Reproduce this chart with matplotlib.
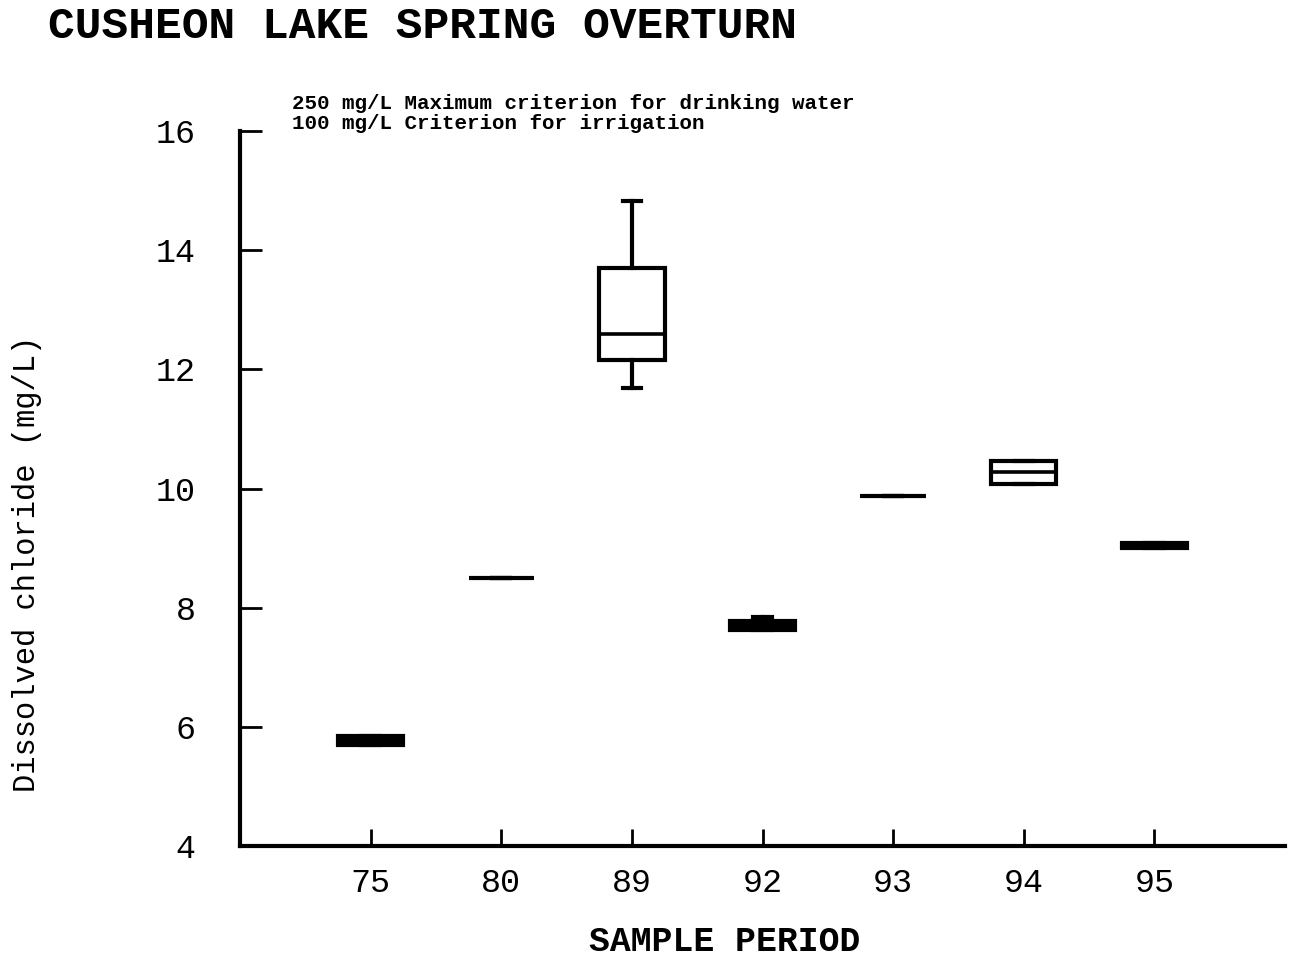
import matplotlib
matplotlib.use('Agg')
import matplotlib.pyplot as plt

# dissolved chloride summary per sample period (mg/L)
periods = ['75', '80', '89', '92', '93', '94', '95']
whisker_low = [5.70, 8.50, 11.68, 7.63, 9.87, 10.07, 9.01]
quart_low = [5.70, 8.50, 12.15, 7.63, 9.87, 10.07, 9.01]
medians = [5.77, 8.50, 12.59, 7.70, 9.87, 10.27, 9.05]
quart_high = [5.84, 8.50, 13.71, 7.78, 9.87, 10.46, 9.08]
whisker_high = [5.84, 8.50, 14.83, 7.85, 9.87, 10.46, 9.08]

notes = ['250 mg/L Maximum criterion for drinking water',
         '100 mg/L Criterion for irrigation']

mono = 'Liberation Mono'

fig = plt.figure(figsize=(12.89, 9.57), dpi=100)
ax = fig.add_axes([0.1862, 0.116, 0.8107, 0.747])

stats = []
for i, p in enumerate(periods):
    stats.append({'label': p, 'whislo': whisker_low[i], 'q1': quart_low[i],
                  'med': medians[i], 'q3': quart_high[i], 'whishi': whisker_high[i],
                  'fliers': []})

lw = 3.0
bp = ax.bxp(stats, positions=range(1, len(periods) + 1), widths=0.5,
            showfliers=False, patch_artist=True,
            boxprops=dict(facecolor='white', edgecolor='black', linewidth=lw),
            medianprops=dict(color='black', linewidth=2.6),
            whiskerprops=dict(color='black', linewidth=lw),
            capprops=dict(color='black', linewidth=lw),
            capwidths=0.14)

# narrow boxes print as solid bars
for box, lo, hi in zip(bp['boxes'], quart_low, quart_high):
    if hi - lo < 0.25:
        box.set_facecolor('black')

ax.set_xlim(0, 8)
ax.set_ylim(4, 16)
ax.set_yticks(range(4, 17, 2))
ax.set_xticks(range(1, len(periods) + 1))
ax.set_xticklabels(periods)

for s in ['top', 'right']:
    ax.spines[s].set_visible(False)
for s in ['left', 'bottom']:
    ax.spines[s].set_linewidth(3)

ax.tick_params(axis='y', direction='in', length=16, width=2, pad=32)
ax.tick_params(axis='x', direction='in', length=12, width=2, pad=16)
for lab in ax.get_xticklabels() + ax.get_yticklabels():
    lab.set_family(mono)
    lab.set_fontsize(24)

ax.set_ylabel('Dissolved chloride (mg/L)', family=mono, fontsize=22, va='center')
ax.yaxis.set_label_coords(-0.204, 0.394)
ax.set_xlabel('SAMPLE PERIOD', family=mono, fontsize=25, fontweight='bold', va='center')
ax.xaxis.set_label_coords(0.464, -0.134)

ax.text(0.05, 1.039, notes[0], transform=ax.transAxes, family=mono,
        fontsize=15, fontweight='bold', va='center', ha='left', clip_on=False)
ax.text(0.05, 1.010, notes[1], transform=ax.transAxes, family=mono,
        fontsize=15, fontweight='bold', va='center', ha='left', clip_on=False)

fig.text(48 / 1289, 1 - 27 / 957, 'CUSHEON LAKE SPRING OVERTURN', family=mono,
         fontsize=32, fontweight='bold', va='center', ha='left')

fig.savefig('out.png', dpi=100, facecolor='white')
